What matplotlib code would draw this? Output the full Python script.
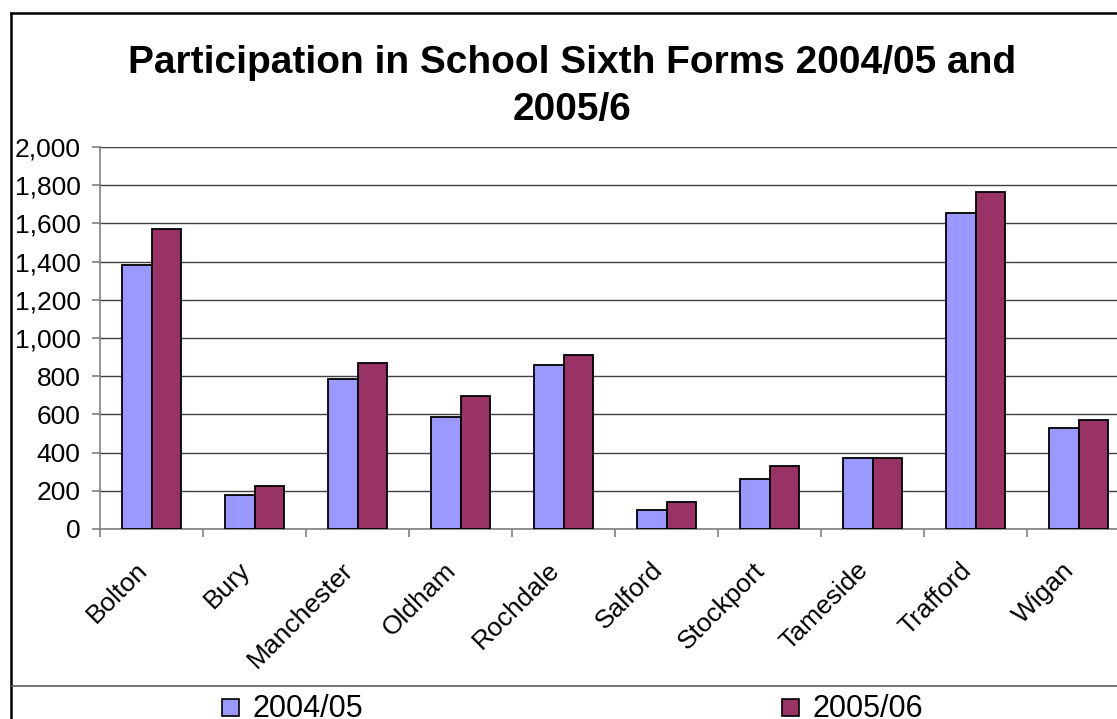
import matplotlib
matplotlib.use("Agg")
import matplotlib.pyplot as plt
from matplotlib.lines import Line2D
from matplotlib.patches import Rectangle
from matplotlib.transforms import ScaledTranslation
import numpy as np

plt.rcParams['font.family'] = ['Liberation Sans', 'DejaVu Sans']

# Learners in school sixth forms, by local authority
areas = ["Bolton", "Bury", "Manchester", "Oldham", "Rochdale",
         "Salford", "Stockport", "Tameside", "Trafford", "Wigan"]
year_2004_05 = [1380, 178, 785, 586, 859, 101, 262, 372, 1654, 530]
year_2005_06 = [1569, 227, 869, 696, 911, 143, 330, 372, 1764, 572]
series_labels = ["2004/05", "2005/06"]
series_colors = ["#9999FF", "#993366"]
y_ticks = [0, 200, 400, 600, 800, 1000, 1200, 1400, 1600, 1800, 2000]
title = "Participation in School Sixth Forms 2004/05 and\n2005/6"

W, H = 1117, 719
fig = plt.figure(figsize=(W / 100, H / 100), dpi=100)

def fx(px):
    return px / W

def fy(py):
    return 1 - py / H

# Chart frame (extends past the right and bottom edges)
fig.add_artist(Line2D([fx(11), fx(11)], [fy(13), fy(730)], color="black", lw=1.8,
                      transform=fig.transFigure))
fig.add_artist(Line2D([fx(11), fx(1130)], [fy(13), fy(13)], color="black", lw=1.8,
                      transform=fig.transFigure))
# Separator above the legend
fig.add_artist(Line2D([fx(12), fx(1130)], [fy(686), fy(686)], color="#606060", lw=1.2,
                      transform=fig.transFigure))

# Plot area: 0..2000 between y=529 and y=147, categories from x=100 at 103 px each
left, right, top, bottom = 100, 1130, 147, 529
ax = fig.add_axes([fx(left), fy(bottom), fx(right - left), (bottom - top) / H])
ax.set_facecolor("white")

x = np.arange(len(areas))
bw = 0.29
ax.bar(x - bw / 2, year_2004_05, width=bw, color=series_colors[0],
       edgecolor="black", linewidth=1.3, zorder=3, label=series_labels[0])
ax.bar(x + bw / 2, year_2005_06, width=bw, color=series_colors[1],
       edgecolor="black", linewidth=1.3, zorder=3, label=series_labels[1])

ax.set_xlim(-0.5, len(areas) - 0.5)
ax.set_ylim(0, 2000)
ax.set_yticks(y_ticks)
ax.set_yticklabels([f"{v:,}" for v in y_ticks])
ax.yaxis.grid(True, color="#404040", lw=1.0, zorder=0)
ax.set_axisbelow(True)

for s in ["top", "right"]:
    ax.spines[s].set_visible(False)
ax.spines["left"].set_color("#808080")
ax.spines["bottom"].set_color("#808080")
ax.spines["left"].set_linewidth(1.2)
ax.spines["bottom"].set_linewidth(1.2)

ax.tick_params(axis="y", direction="out", length=6, width=1.2, color="#808080",
               labelsize=19, pad=8)
ax.set_xticks(x)
ax.set_xticklabels(areas, rotation=45, ha="right", va="center",
                   rotation_mode="anchor", fontsize=19)
ax.tick_params(axis="x", which="major", length=0, pad=27)
shift = ScaledTranslation(-8 / 100, 0, fig.dpi_scale_trans)
for lbl in ax.get_xticklabels():
    lbl.set_transform(lbl.get_transform() + shift)
ax.set_xticks(np.arange(len(areas) + 1) - 0.5, minor=True)
ax.tick_params(axis="x", which="minor", direction="out", length=6, width=1.2,
               color="#808080")

# Title
fig.text(fx(572), fy(45), title, ha="center", va="top", fontsize=28,
         fontweight="bold", linespacing=1.4)

# Legend along the bottom
for px, col, lab in [(222, series_colors[0], series_labels[0]),
                     (782, series_colors[1], series_labels[1])]:
    fig.add_artist(Rectangle((fx(px), fy(716)), fx(17), 17 / H, facecolor=col,
                             edgecolor="black", lw=1.2, transform=fig.transFigure))
    fig.text(fx(px + 30), fy(717), lab, ha="left", va="baseline", fontsize=22)

fig.savefig("out.png", dpi=100)
